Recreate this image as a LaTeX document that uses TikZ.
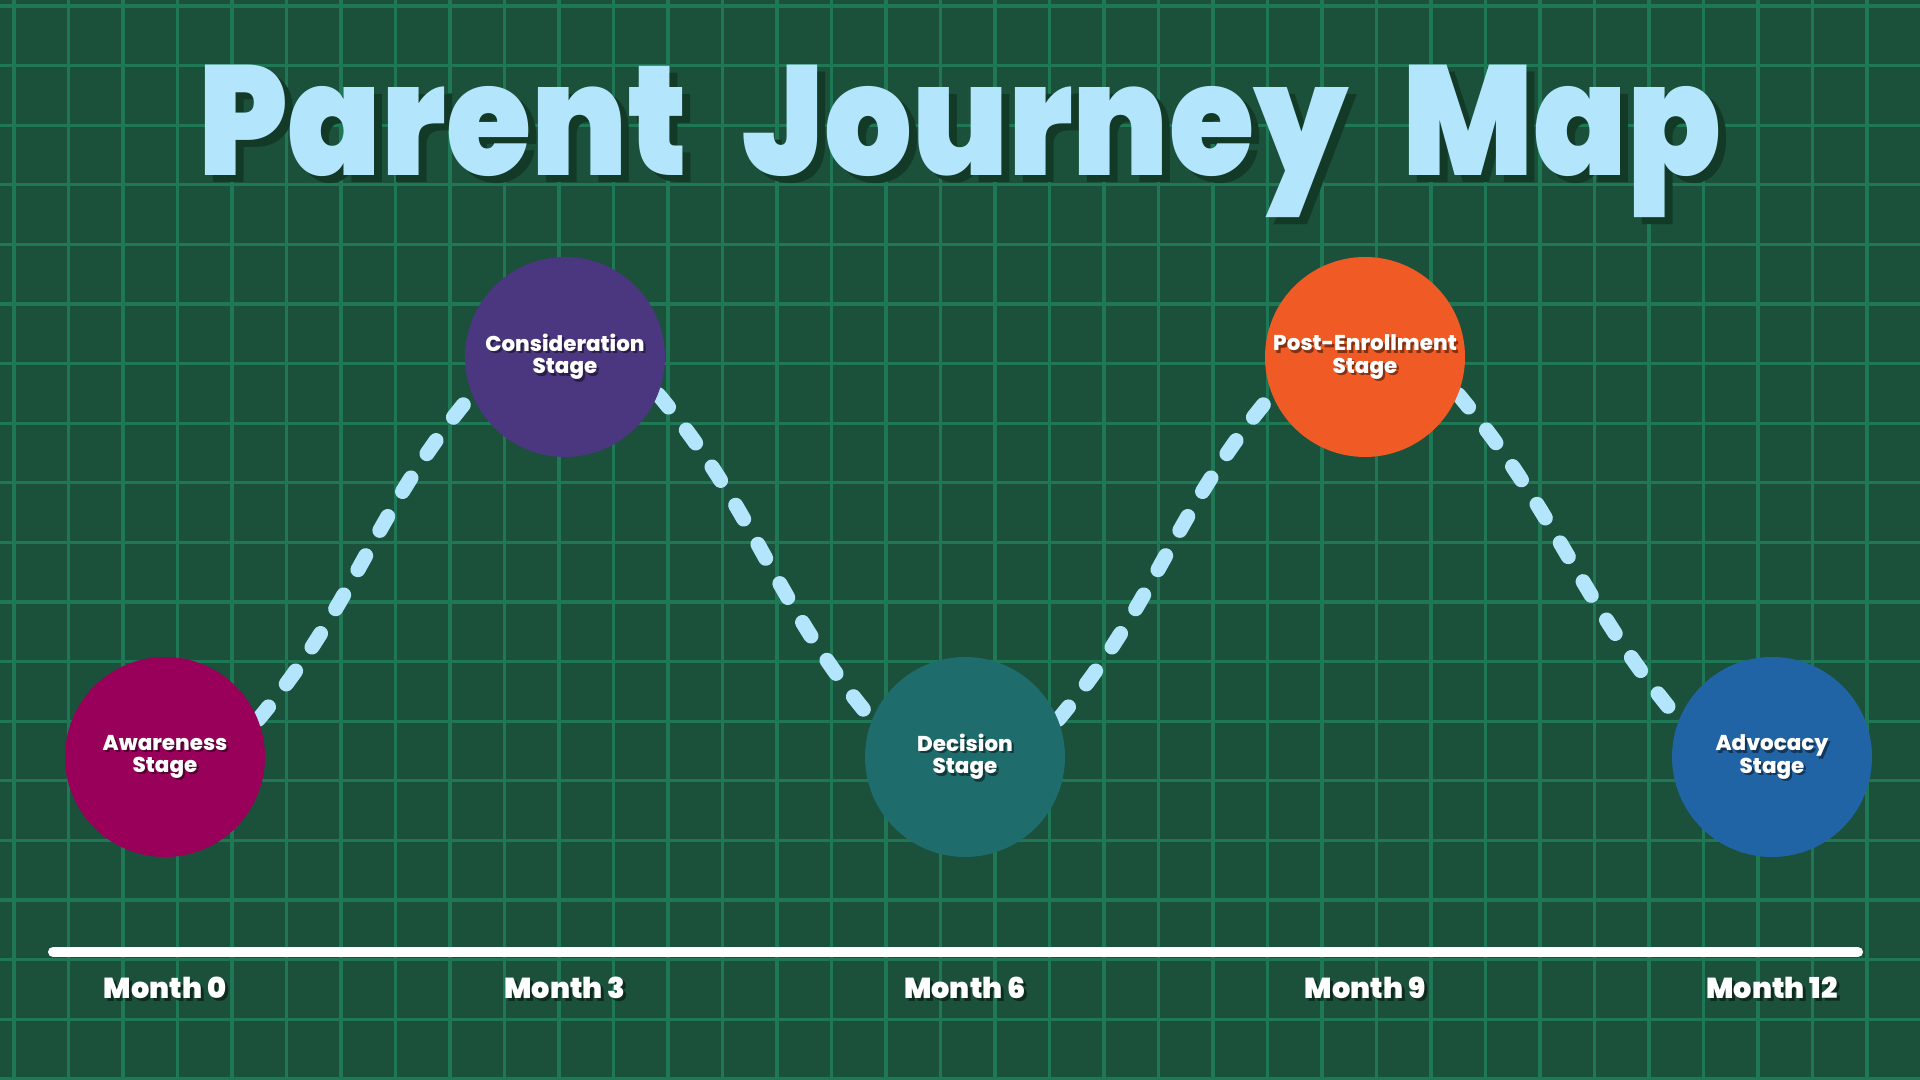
\documentclass[tikz,border=0pt]{standalone}
\usepackage{fontspec}
\newfontfamily\titlefont{Poppins Black}
\newfontfamily\labelfont{Poppins ExtraBold}
\usetikzlibrary{positioning,backgrounds}

\definecolor{boardGreen}{HTML}{1B503A}
\definecolor{gridGreen}{HTML}{1F7855}
\definecolor{skyBlue}{HTML}{B3E5FC}
\definecolor{titleShade}{HTML}{123A27}
\definecolor{awareMag}{HTML}{98005A}
\definecolor{considPurple}{HTML}{4B3780}
\definecolor{decisTeal}{HTML}{1E6C6C}
\definecolor{postOrange}{HTML}{F05A24}
\definecolor{advocBlue}{HTML}{2164A5}

\tikzset{
	stage/.style={circle, minimum size=2cm, inner sep=0pt},
	stagetext/.style={text=white, align=center, inner sep=0pt, font=\labelfont\fontsize{6.1}{6.3}\selectfont},
	monthtext/.style={text=white, anchor=base, inner sep=0pt, font=\titlefont\fontsize{8.2}{9}\selectfont},
	titletext/.style={anchor=base, inner sep=0pt, xscale=0.885, font=\titlefont\fontsize{44.4}{48}\selectfont},
	shade/.style={text=black, text opacity=0.45},
	dashpath/.style={line width=0.15cm, color=skyBlue, line cap=round, dash pattern=on 0.16cm off 0.29cm},
	gridline/.style={line width=0.033cm, color=gridGreen},
	timeline/.style={line width=0.1cm, color=white, line cap=round}
}

\begin{document}
\begin{tikzpicture}
	\useasboundingbox (0,0) rectangle (19.2,10.8);
	\clip (0,0) rectangle (19.2,10.8);

	% stages
	\foreach \nm/\x/\y/\col/\txt in {aware/1.65/3.23/awareMag/Awareness, consid/5.65/7.23/considPurple/Consideration, decis/9.65/3.23/decisTeal/Decision, post/13.65/7.23/postOrange/Post-Enrollment, advoc/17.72/3.23/advocBlue/Advocacy}{
		\node[stage, fill=\col] (\nm) at (\x,\y) {};
		\node[stagetext, shade] (\nm-sh) at (\x+0.022,\y-0.022) {\txt\\Stage};
		\node[stagetext] (\nm-txt) at (\x,\y) {\txt\\Stage};
	}

	\begin{scope}[on background layer]
		\fill[boardGreen] (0,0) rectangle (19.2,10.8);
		\foreach \k in {0,...,34}
			\draw[gridline] (0.14+0.545*\k,0) -- ++(0,10.8);
		\foreach \k in {0,...,18}
			\draw[gridline] (0,10.74-0.596*\k) -- ++(19.2,0);

		\draw[dashpath] (aware.22) to[out=50,in=230] (consid.202);
		\draw[dashpath] (consid.-22) to[out=-50,in=130] (decis.158);
		\draw[dashpath] (decis.22) to[out=50,in=230] (post.202);
		\draw[dashpath] (post.-22) to[out=-50,in=130] (advoc.158);
	\end{scope}

	% title
	\node[titletext, text=titleShade] (title-sh) at (9.68,8.97) {Parent\hspace{0.62cm}Journey\hspace{0.62cm}Map};
	\node[titletext, text=skyBlue] (title) at (9.6,9.04) {Parent\hspace{0.62cm}Journey\hspace{0.62cm}Map};

	% time axis
	\coordinate (tl-start) at (0.53,1.28);
	\coordinate (tl-end) at (18.58,1.28);
	\draw[timeline] (tl-start) -- (tl-end);

	\foreach \x/\m in {1.65/0, 5.65/3, 9.65/6, 13.65/9, 17.72/12}{
		\node[monthtext, shade] (m\m-sh) at (\x+0.03,0.78) {Month \m};
		\node[monthtext] (m\m) at (\x,0.81) {Month \m};
	}
\end{tikzpicture}
\end{document}
